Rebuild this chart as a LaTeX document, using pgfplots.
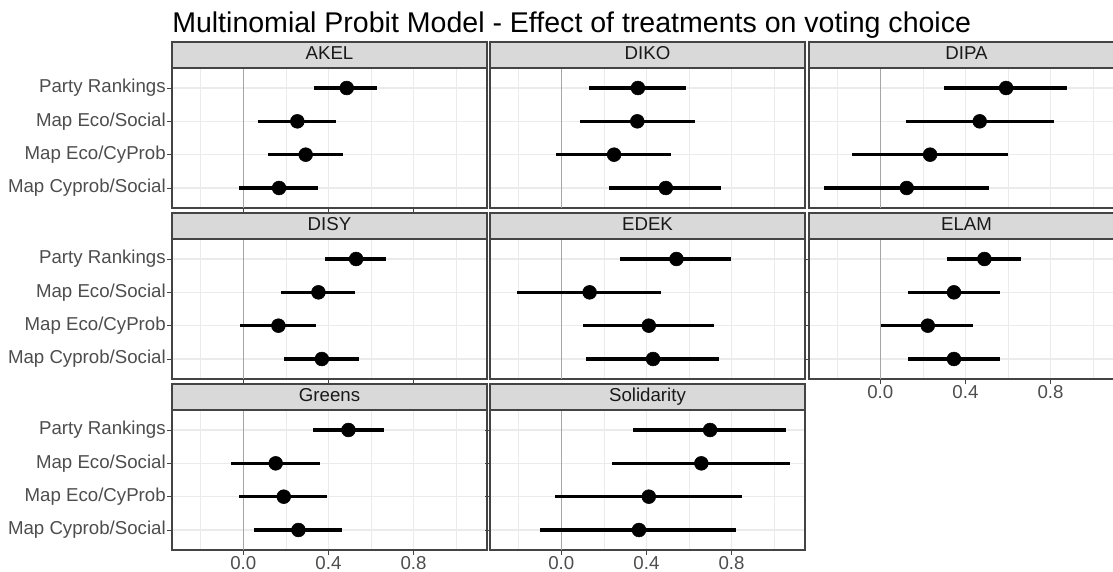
\documentclass[border=0pt]{standalone}
\usepackage{fontspec}
\setmainfont{Liberation Sans}
\usepackage{pgfplots}
\usepackage{pgfplotstable}
\pgfplotsset{compat=1.18}
\definecolor{stripfill}{HTML}{D9D9D9}
\definecolor{framec}{HTML}{444444}
\definecolor{gridc}{HTML}{EBEBEB}
\definecolor{ticklab}{HTML}{4D4D4D}
\definecolor{zeroc}{HTML}{A6A6A6}

% columns: y est lo hi  (y: 4 = Party Rankings ... 1 = Map Cyprob/Social)
\pgfplotstableread{
y est lo hi
4 0.486 0.334 0.627
3 0.254 0.071 0.435
2 0.293 0.115 0.467
1 0.168 -0.022 0.353
}\tAKEL
\pgfplotstableread{
y est lo hi
4 0.360 0.130 0.588
3 0.357 0.088 0.627
2 0.248 -0.027 0.517
1 0.491 0.224 0.749
}\tDIKO
\pgfplotstableread{
y est lo hi
4 0.591 0.301 0.879
3 0.467 0.121 0.815
2 0.234 -0.133 0.599
1 0.124 -0.266 0.511
}\tDIPA
\pgfplotstableread{
y est lo hi
4 0.530 0.384 0.671
3 0.353 0.177 0.525
2 0.165 -0.016 0.342
1 0.369 0.190 0.543
}\tDISY
\pgfplotstableread{
y est lo hi
4 0.541 0.276 0.796
3 0.133 -0.210 0.469
2 0.411 0.100 0.718
1 0.431 0.116 0.743
}\tEDEK
\pgfplotstableread{
y est lo hi
4 0.489 0.312 0.663
3 0.346 0.132 0.560
2 0.223 0.005 0.437
1 0.346 0.129 0.560
}\tELAM
\pgfplotstableread{
y est lo hi
4 0.494 0.326 0.659
3 0.152 -0.058 0.362
2 0.190 -0.019 0.394
1 0.259 0.049 0.463
}\tGreens
\pgfplotstableread{
y est lo hi
4 0.699 0.337 1.055
3 0.658 0.238 1.075
2 0.411 -0.030 0.851
1 0.365 -0.099 0.823
}\tSolidarity

\pgfplotsset{
  panel/.style={
    scale only axis, width=236.25pt, height=105pt,
    xmin=-0.335, xmax=1.145, ymin=0.4, ymax=4.6,
    xtick={0,0.4,0.8}, minor xtick={-0.2,0.2,0.6,1.0},
    ytick={1,2,3,4},
    xmajorgrids, ymajorgrids, xminorgrids,
    major grid style={gridc, line width=0.8pt},
    minor grid style={gridc, line width=0.45pt},
    axis line style={framec, line width=0.8pt},
    tick style={framec, line width=0.7pt},
    tick align=outside, major tick length=0pt, minor tick length=0pt,
    xtick pos=bottom, ytick pos=left,
    xticklabels={}, yticklabels={},
    ticklabel style={font=\fontsize{14}{16}\selectfont, text=ticklab},
  },
  ylab/.style={
    ytick style={framec, line width=0.7pt},
    major tick length=3.75pt,
    yticklabels={Map Cyprob/Social, Map Eco/CyProb, Map Eco/Social, Party Rankings},
    yticklabel style={inner sep=0pt, anchor=east, xshift=-0.75pt},
  },
  xlab/.style={
    major tick length=3.75pt,
    xticklabels={0.0,0.4,0.8},
    xticklabel style={inner sep=0pt, anchor=north, yshift=-0.75pt},
  },
}

\newcommand\panel[6]{%
  \begin{axis}[panel, at={(#1,#2)}, anchor=south west, name=#3, #6]
    \draw[zeroc, line width=0.8pt] (axis cs:0,0.4) -- (axis cs:0,4.6);
    \addplot[only marks, mark=none, forget plot,
      error bars/.cd, x dir=both, x explicit, error mark=none,
      error bar style={draw=black, line width=2.3pt, solid}]
      table[x=est, y=y,
        x error minus expr=\thisrow{est}-\thisrow{lo},
        x error plus expr=\thisrow{hi}-\thisrow{est}] {#4};
    \addplot[only marks, mark=*, mark size=5.2pt, black] table[x=est, y=y] {#4};
  \end{axis}
  \draw[fill=stripfill, draw=framec, line width=0.8pt] (#3.north west) rectangle ([yshift=19.5pt]#3.north east);
  \node[font=\fontsize{14}{16}\selectfont, text={black!90}, inner sep=0pt] at ([yshift=9.75pt]#3.north) {\strut #5};
}

\begin{document}
\begin{tikzpicture}
  \node[anchor=base west, inner sep=0pt, font=\fontsize{21.4}{25}\selectfont] at (129pt,-24pt)
    {Multinomial Probit Model - Effect of treatments on voting choice};
  % row 1
  \panel{129pt}{-156pt}{pA}{\tAKEL}{AKEL}{ylab}
  \panel{367.5pt}{-156pt}{pB}{\tDIKO}{DIKO}{}
  \panel{606.75pt}{-156pt}{pC}{\tDIPA}{DIPA}{}
  % row 2
  \panel{129pt}{-284.25pt}{pD}{\tDISY}{DISY}{ylab}
  \panel{367.5pt}{-284.25pt}{pE}{\tEDEK}{EDEK}{}
  \panel{606.75pt}{-284.25pt}{pF}{\tELAM}{ELAM}{xlab}
  % row 3
  \panel{129pt}{-412.5pt}{pG}{\tGreens}{Greens}{ylab, xlab}
  \panel{367.5pt}{-412.5pt}{pH}{\tSolidarity}{Solidarity}{xlab}
  \pgfresetboundingbox
  \path[use as bounding box] (0,0) rectangle (834.75pt,-428.25pt);
\end{tikzpicture}
\end{document}
